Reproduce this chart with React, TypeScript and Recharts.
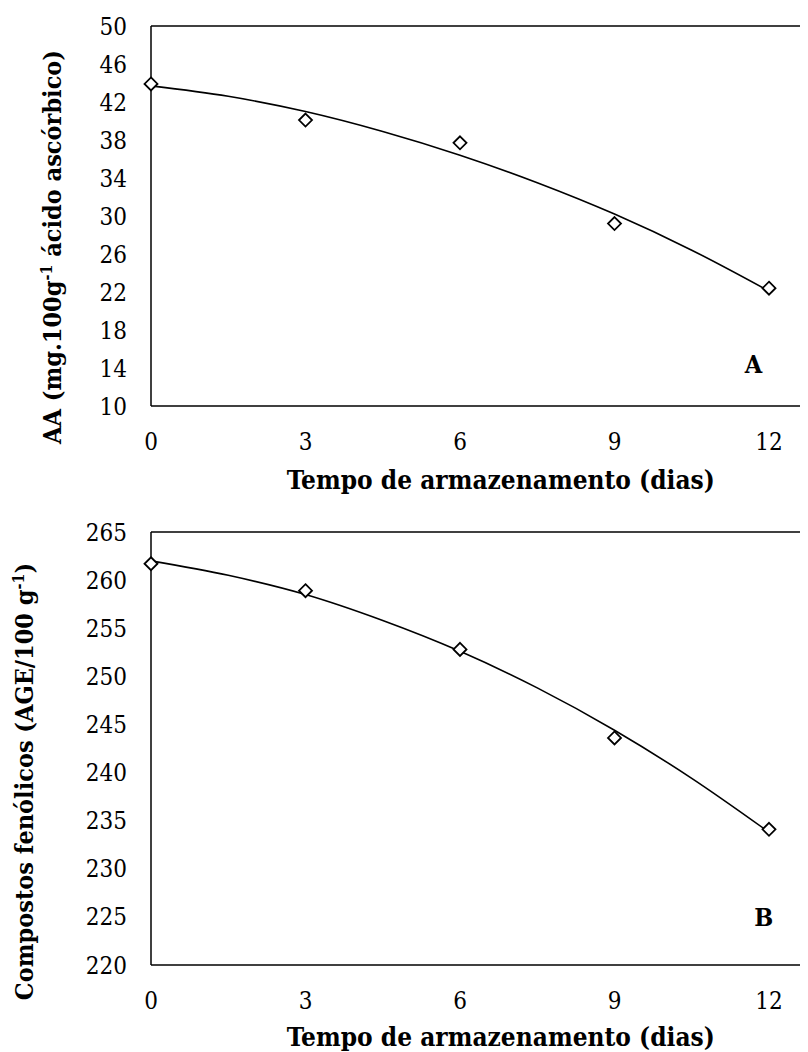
import React from 'react';
import { ComposedChart, Line, XAxis, YAxis, ReferenceLine, ReferenceDot } from 'recharts';

// ---- data ----
const days = [0, 1.5, 3, 4.5, 6, 7.5, 9, 10.5, 12];
const aaObserved = [43.9, null, 40.1, null, 37.7, null, 29.2, null, 22.4];
const aaTrend = [43.7, 42.6, 41.0, 38.9, 36.4, 33.5, 30.2, 26.4, 22.1];
const phenObserved = [261.7, null, 258.9, null, 252.8, null, 243.6, null, 234.1];
const phenTrend = [262.0, 260.5, 258.5, 255.8, 252.6, 248.8, 244.4, 239.4, 233.8];

const xTicks = [0, 3, 6, 9, 12];
const aaTicks = [10, 14, 18, 22, 26, 30, 34, 38, 42, 46, 50];
const phenTicks = [220, 225, 230, 235, 240, 245, 250, 255, 260, 265];

const xTitle = 'Tempo de armazenamento (dias)';
const aaTitleMain = 'AA (mg.100g';
const aaTitleSup = '-1';
const aaTitleEnd = ' ácido ascórbico)';
const phenTitleMain = 'Compostos fenólicos (AGE/100 g';
const phenTitleSup = '-1';
const phenTitleEnd = ')';
const panelA = 'A';
const panelB = 'B';

const aaData = days.map((d, i) => ({ day: d, obs: aaObserved[i], trend: aaTrend[i] }));
const phenData = days.map((d, i) => ({ day: d, obs: phenObserved[i], trend: phenTrend[i] }));

const FONT = '"DejaVu Serif Condensed", "DejaVu Serif", serif';
const TICK_SIZE = 24;
const X_TITLE_SIZE = 26;
const Y_TITLE_SIZE = 25;

const Diamond = (props: any) => {
  const { cx, cy, payload, index } = props;
  if (!payload || payload.obs == null || cx == null || cy == null || isNaN(cy)) {
    return <g key={`e-${index}`} />;
  }
  const r = 6.5;
  return (
    <path
      key={`d-${index}`}
      d={`M${cx},${cy - r}L${cx + r},${cy}L${cx},${cy + r}L${cx - r},${cy}Z`}
      fill="#ffffff"
      stroke="#000000"
      strokeWidth={1.8}
    />
  );
};

const makeXTitle = (dx: number, dyOff: number) => (props: any) => {
  const vb = props.viewBox || {};
  const x = vb.x + vb.width / 2 + dx;
  const y = vb.y + dyOff;
  return (
    <text x={x} y={y} dy="0.35em" textAnchor="middle" fontFamily={FONT} fontWeight="bold" fontSize={X_TITLE_SIZE} fill="#000">
      {xTitle}
    </text>
  );
};

const makeYTitle = (cxAbs: number, dyShift: number, main: string, sup: string, end: string) => (props: any) => {
  const vb = props.viewBox || {};
  const cx = vb.x + cxAbs;
  const cy = vb.y + vb.height / 2 + dyShift;
  return (
    <text
      x={cx}
      y={cy}
      dy="0.35em"
      transform={`rotate(-90, ${cx}, ${cy})`}
      textAnchor="middle"
      fontFamily={FONT}
      fontWeight="bold"
      fontSize={Y_TITLE_SIZE}
      fill="#000"
    >
      {main}
      <tspan dy={-9} fontSize={16}>{sup}</tspan>
      <tspan dy={9}>{end}</tspan>
    </text>
  );
};

const tickStyle = { fill: '#000', fontSize: TICK_SIZE, fontFamily: FONT };

const panelLabel = (text: string) => (props: any) => {
  const vb = props.viewBox || {};
  const x = vb.cx != null ? vb.cx : vb.x;
  const y = vb.cy != null ? vb.cy : vb.y;
  return (
    <text x={x} y={y} dy="0.35em" textAnchor="middle" fontFamily={FONT} fontWeight="bold" fontSize={25} fill="#000">
      {text}
    </text>
  );
};

export default function App() {
  return (
    <div style={{ width: 800, height: 1044, overflow: 'hidden', background: '#fff' }}>
      <ComposedChart width={830} height={500} data={aaData} margin={{ top: 18, right: 17.5, left: 0, bottom: 12 }}>
        <XAxis
          dataKey="day"
          type="number"
          domain={[0, 13]}
          ticks={xTicks}
          tickLine={false}
          tickSize={0}
          tickMargin={27}
          axisLine={{ stroke: '#000', strokeWidth: 1.5 }}
          tick={tickStyle}
          height={90}
          label={{ content: makeXTitle(15, 74) }}
        />
        <YAxis
          type="number"
          domain={[10, 50]}
          ticks={aaTicks}
          tickLine={false}
          tickSize={0}
          tickMargin={24}
          axisLine={{ stroke: '#000', strokeWidth: 1.5 }}
          tick={tickStyle}
          width={143}
          interval={0}
          label={{ content: makeYTitle(44, 31, aaTitleMain, aaTitleSup, aaTitleEnd) }}
        />
        <ReferenceLine y={50} stroke="#000" strokeWidth={1.5} />
        <Line dataKey="trend" type="monotone" stroke="#000" strokeWidth={1.6} dot={false} activeDot={false} isAnimationActive={false} />
        <Line dataKey="obs" stroke="none" dot={Diamond} activeDot={false} connectNulls={false} isAnimationActive={false} />
        <ReferenceDot x={11.7} y={14.4} r={0} fill="none" stroke="none" label={{ content: panelLabel(panelA) }} />
      </ComposedChart>
      <ComposedChart width={830} height={544} data={phenData} margin={{ top: 24, right: 17.5, left: 0, bottom: 0 }}>
        <XAxis
          dataKey="day"
          type="number"
          domain={[0, 13]}
          ticks={xTicks}
          tickLine={false}
          tickSize={0}
          tickMargin={27}
          axisLine={{ stroke: '#000', strokeWidth: 1.5 }}
          tick={tickStyle}
          height={87}
          label={{ content: makeXTitle(15, 72) }}
        />
        <YAxis
          type="number"
          domain={[220, 265]}
          ticks={phenTicks}
          tickLine={false}
          tickSize={0}
          tickMargin={24}
          axisLine={{ stroke: '#000', strokeWidth: 1.5 }}
          tick={tickStyle}
          width={143}
          interval={0}
          label={{ content: makeYTitle(16, 33, phenTitleMain, phenTitleSup, phenTitleEnd) }}
        />
        <ReferenceLine y={265} stroke="#000" strokeWidth={1.5} />
        <Line dataKey="trend" type="monotone" stroke="#000" strokeWidth={1.6} dot={false} activeDot={false} isAnimationActive={false} />
        <Line dataKey="obs" stroke="none" dot={Diamond} activeDot={false} connectNulls={false} isAnimationActive={false} />
        <ReferenceDot x={11.9} y={225} r={0} fill="none" stroke="none" label={{ content: panelLabel(panelB) }} />
      </ComposedChart>
    </div>
  );
}
